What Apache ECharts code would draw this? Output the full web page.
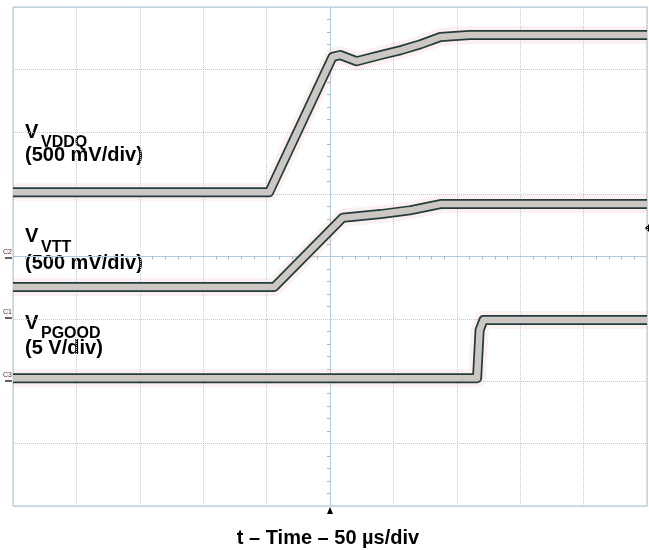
<!DOCTYPE html>
<html>
<head>
<meta charset="utf-8">
<script src="https://cdn.jsdelivr.net/npm/echarts@6/dist/echarts.min.js"></script>
<style>
    html, body { margin: 0; padding: 0; background: #fff; }
    #main { width: 649px; height: 550px; }
</style>
</head>
<body>
<div id="main"></div>
<script>
    // time in µs (50 µs/div), level in screen divisions (0..8 from bottom)
    const vddqT = [0, 202, 252, 258, 271, 290, 306, 321, 337, 360, 500];
    const vddqV = [5.03, 5.03, 7.20, 7.23, 7.13, 7.23, 7.31, 7.40, 7.52, 7.55, 7.55];
    const vttT = [0, 206, 260, 290, 313, 337, 500];
    const vttV = [3.51, 3.51, 4.62, 4.68, 4.74, 4.84, 4.84];
    const pgoodT = [0, 366, 368, 371, 500];
    const pgoodV = [2.05, 2.05, 2.82, 2.98, 2.98];

    const channelNames = ['VDDQ', 'VTT', 'PGOOD'];
    const channelScales = ['(500 mV/div)', '(500 mV/div)', '(5 V/div)'];
    const channelMarks = ['C2', 'C1', 'C3'];
    const xTitle = 't – Time – 50 µs/div';

    const gridColor = '#b3cbda';
    const font = '"Liberation Sans", Arial, sans-serif';

    function pairs(ts, vs) {
        return ts.map((t, i) => [t, vs[i]]);
    }

    // each trace = faint halo + dark outline + light core
    function trace(data) {
        const layers = [
            { width: 18, color: 'rgba(236,170,160,0.16)' },
            { width: 10, color: '#233d3c' },
            { width: 6.5, color: '#cdc7c4' }
        ];
        return layers.map(l => ({
            type: 'line',
            data: data,
            symbol: 'none',
            silent: true,
            lineStyle: { width: l.width, color: l.color, join: 'round', cap: 'butt' }
        }));
    }

    function centerX() {
        return {
            type: 'value', min: 0, max: 500, interval: 50, position: 'bottom',
            offset: -249.5,
            axisLine: { show: true, lineStyle: { color: gridColor } },
            axisTick: { show: false },
            minorTick: { show: true, splitNumber: 5, length: 3, lineStyle: { color: '#9fb9c9' } },
            axisLabel: { show: false },
            splitLine: { show: false }
        };
    }
    function centerY() {
        return {
            type: 'value', min: 0, max: 8, interval: 1, position: 'left',
            offset: -317,
            axisLine: { show: true, lineStyle: { color: gridColor } },
            axisTick: { show: false },
            minorTick: { show: true, splitNumber: 5, length: 3, lineStyle: { color: '#9fb9c9' } },
            axisLabel: { show: false },
            splitLine: { show: false }
        };
    }

    const labelY = [
        [132, 142.5, 155],
        [236, 247.5, 263],
        [323, 333.5, 348]
    ];
    const markY = [252, 312, 375];

    const graphics = [];
    channelNames.forEach((name, i) => {
        const y = labelY[i];
        graphics.push({ type: 'text', x: 25, y: y[0], style: { text: 'V', font: 'bold 20px ' + font, fill: '#000', verticalAlign: 'middle' } });
        graphics.push({ type: 'text', x: 41, y: y[1], style: { text: name, font: 'bold 16px ' + font, fill: '#000', verticalAlign: 'middle' } });
        graphics.push({ type: 'text', x: 25, y: y[2], style: { text: channelScales[i], font: 'bold 20px ' + font, fill: '#000', verticalAlign: 'middle' } });
    });
    channelMarks.forEach((m, i) => {
        graphics.push({ type: 'text', x: 3, y: markY[i], style: { text: m, font: '7px ' + font, fill: '#5a2c20', verticalAlign: 'middle' } });
        graphics.push({ type: 'line', shape: { x1: 5, y1: markY[i] + 6, x2: 12, y2: markY[i] + 6 }, style: { stroke: '#3a2a22', lineWidth: 1.5 } });
    });
    graphics.push({ type: 'polygon', shape: { points: [[327, 514], [330, 507], [333, 514]] }, style: { fill: '#000' } });
    graphics.push({ type: 'polygon', shape: { points: [[649, 224], [645, 228], [649, 232]] }, style: { fill: '#000' } });
    graphics.push({ type: 'text', x: 328, y: 538, style: { text: xTitle, font: 'bold 20px ' + font, fill: '#000', align: 'center', verticalAlign: 'middle' } });

    const option = {
        animation: false,
        backgroundColor: '#fff',
        grid: { left: 13, top: 7, width: 634, height: 499, show: true, borderColor: '#a6c2d4', borderWidth: 1 },
        xAxis: [
            {
                type: 'value', min: 0, max: 500, interval: 50,
                axisLine: { show: false }, axisTick: { show: false }, axisLabel: { show: false },
                splitLine: { show: true, lineStyle: { color: gridColor, type: 'dotted', width: 1 } }
            },
            centerX()
        ],
        yAxis: [
            {
                type: 'value', min: 0, max: 8, interval: 1,
                axisLine: { show: false }, axisTick: { show: false }, axisLabel: { show: false },
                splitLine: { show: true, lineStyle: { color: gridColor, type: 'dotted', width: 1 } }
            },
            centerY()
        ],
        series: [].concat(
            trace(pairs(vddqT, vddqV)),
            trace(pairs(vttT, vttV)),
            trace(pairs(pgoodT, pgoodV))
        ),
        graphic: graphics
    };

    const chart = echarts.init(document.getElementById('main'));
    chart.setOption(option);
</script>
</body>
</html>
